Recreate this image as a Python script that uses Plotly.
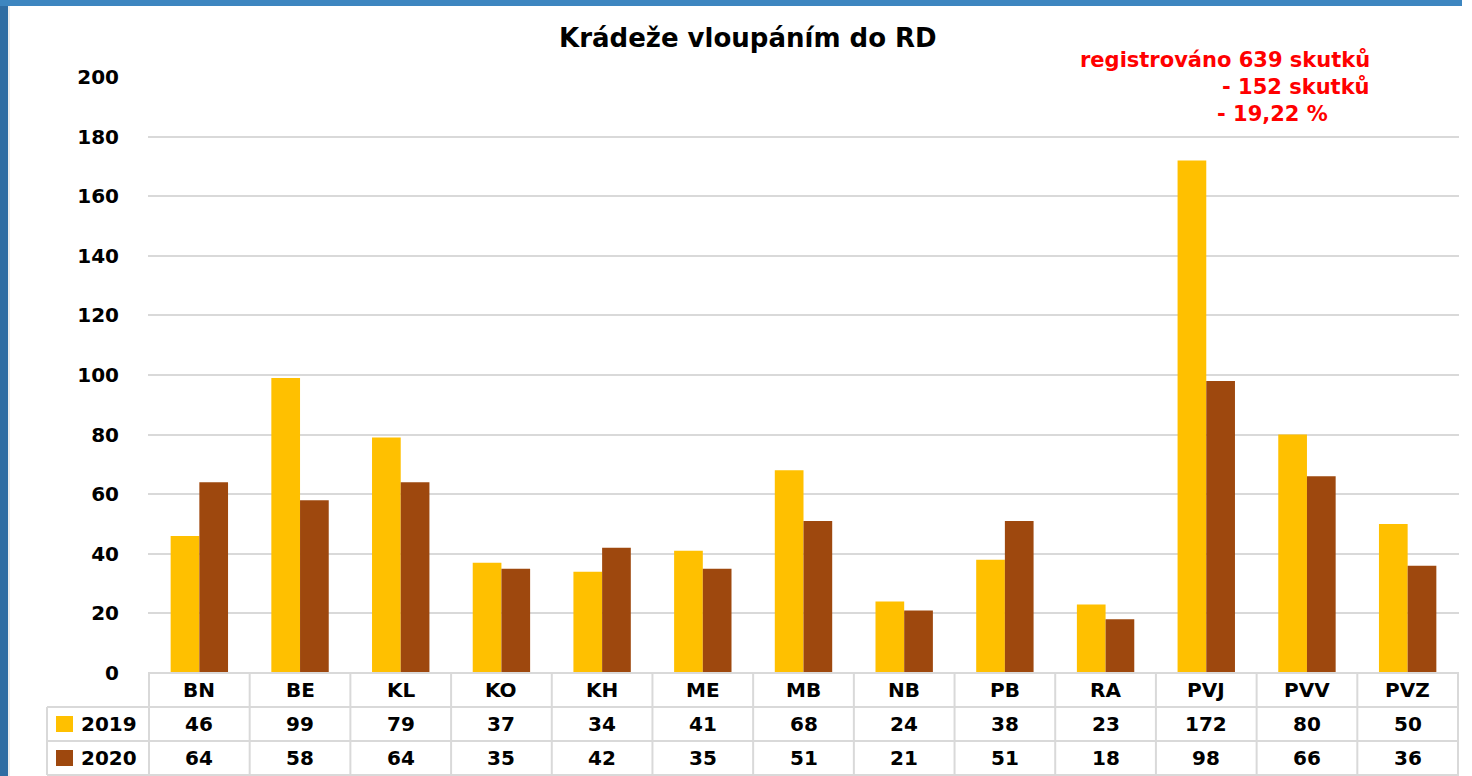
import plotly.graph_objects as go

categories = ["BN", "BE", "KL", "KO", "KH", "ME", "MB", "NB", "PB", "RA", "PVJ", "PVV", "PVZ"]
values_2019 = [46, 99, 79, 37, 34, 41, 68, 24, 38, 23, 172, 80, 50]
values_2020 = [64, 58, 64, 35, 42, 35, 51, 21, 51, 18, 98, 66, 36]
series_names = ["2019", "2020"]
series_colors = ["#FFC000", "#9E480E"]
title_text = "Krádeže vloupáním do RD"
note_lines = ["registrováno 639 skutků", "- 152 skutků", "- 19,22 %"]

W, H = 1472, 776
L, R, T, B = 148, 1459, 77, 673  # plot area in pixels
FONT = "DejaVu Sans"

def px(x):
    return (x - L) / (R - L)

def py(y):
    return (B - y) / (B - T)

fig = go.Figure()
for name, vals, col in zip(series_names, [values_2019, values_2020], series_colors):
    fig.add_trace(go.Bar(x=categories, y=vals, name=name, marker=dict(color=col, line=dict(width=0)),
                         showlegend=False, hoverinfo="skip"))

shapes = []
annotations = []
grid = "#d9d9d9"

# blue frame
shapes.append(dict(type="rect", xref="paper", yref="paper", x0=px(0), x1=px(8), y0=py(776), y1=py(0),
                   fillcolor="#2f6da3", line=dict(width=0), layer="above"))
shapes.append(dict(type="rect", xref="paper", yref="paper", x0=px(0), x1=px(1462), y0=py(6), y1=py(0),
                   fillcolor="#3d86c0", line=dict(width=0), layer="above"))
shapes.append(dict(type="line", xref="paper", yref="paper", x0=px(9), x1=px(9), y0=py(776), y1=py(6),
                   line=dict(color="#dcdcdc", width=1), layer="above"))

# data table lines
row_y = [673, 707, 741, 775]
shapes.append(dict(type="line", xref="paper", yref="paper", x0=0, x1=1, y0=py(673), y1=py(673),
                   line=dict(color=grid, width=2)))
for yy in row_y[1:]:
    shapes.append(dict(type="line", xref="paper", yref="paper", x0=px(47), x1=1, y0=py(yy), y1=py(yy),
                       line=dict(color=grid, width=2)))
shapes.append(dict(type="line", xref="paper", yref="paper", x0=px(47), x1=px(47), y0=py(707), y1=py(775),
                   line=dict(color=grid, width=2)))
for i in range(len(categories) + 1):
    shapes.append(dict(type="line", xref="x", yref="paper", x0=i - 0.5, x1=i - 0.5, y0=py(673), y1=py(775),
                       line=dict(color=grid, width=2)))

tfont = dict(family=FONT, size=20, color="black")
for i, c in enumerate(categories):
    annotations.append(dict(x=c, y=py(690), xref="x", yref="paper", text="<b>%s</b>" % c, showarrow=False,
                            font=tfont, xanchor="center", yanchor="middle"))
    annotations.append(dict(x=c, y=py(724), xref="x", yref="paper", text="<b>%d</b>" % values_2019[i],
                            showarrow=False, font=tfont, xanchor="center", yanchor="middle"))
    annotations.append(dict(x=c, y=py(758), xref="x", yref="paper", text="<b>%d</b>" % values_2020[i],
                            showarrow=False, font=tfont, xanchor="center", yanchor="middle"))

for k, (name, col) in enumerate(zip(series_names, series_colors)):
    yc = 724 + 34 * k
    shapes.append(dict(type="rect", xref="paper", yref="paper", x0=px(56), x1=px(73), y0=py(yc + 8), y1=py(yc - 8),
                       fillcolor=col, line=dict(width=0)))
    annotations.append(dict(x=px(79), y=py(yc), xref="paper", yref="paper", text="<b>%s</b>" % name,
                            showarrow=False, font=tfont, xanchor="left", yanchor="middle"))

annotations.append(dict(x=px(748), y=py(38), xref="paper", yref="paper", text="<b>%s</b>" % title_text,
                        showarrow=False, font=dict(family=FONT, size=26, color="black"),
                        xanchor="center", yanchor="middle"))
red = dict(family=FONT, size=21, color="#ff0000")
annotations.append(dict(x=px(1372), y=py(60), xref="paper", yref="paper", text="<b>%s</b>" % note_lines[0],
                        showarrow=False, font=red, xanchor="right", yanchor="middle"))
annotations.append(dict(x=px(1372), y=py(87), xref="paper", yref="paper", text="<b>%s</b>" % note_lines[1],
                        showarrow=False, font=red, xanchor="right", yanchor="middle"))
annotations.append(dict(x=px(1215), y=py(114), xref="paper", yref="paper", text="<b>%s</b>" % note_lines[2],
                        showarrow=False, font=red, xanchor="left", yanchor="middle"))

fig.update_layout(
    width=W, height=H,
    margin=dict(l=L, r=W - R, t=T, b=H - B, pad=0),
    paper_bgcolor="white", plot_bgcolor="white",
    barmode="group", bargap=0.43, bargroupgap=0,
    shapes=shapes, annotations=annotations,
    xaxis=dict(showticklabels=False, showgrid=False, zeroline=False, showline=False, fixedrange=True),
    yaxis=dict(range=[0, 200], dtick=20, tick0=0, showgrid=True, gridcolor=grid, gridwidth=2,
               zeroline=False, showline=False, ticks="", ticklabelstandoff=28, fixedrange=True,
               tickfont=dict(family=FONT, size=20, color="black"),
               tickvals=list(range(0, 201, 20)), ticktext=["<b>%d</b>" % v for v in range(0, 201, 20)]),
)

fig.write_html("out.html", config={"displayModeBar": False},
               post_script="document.body.style.margin='0';document.body.style.overflow='hidden';")
